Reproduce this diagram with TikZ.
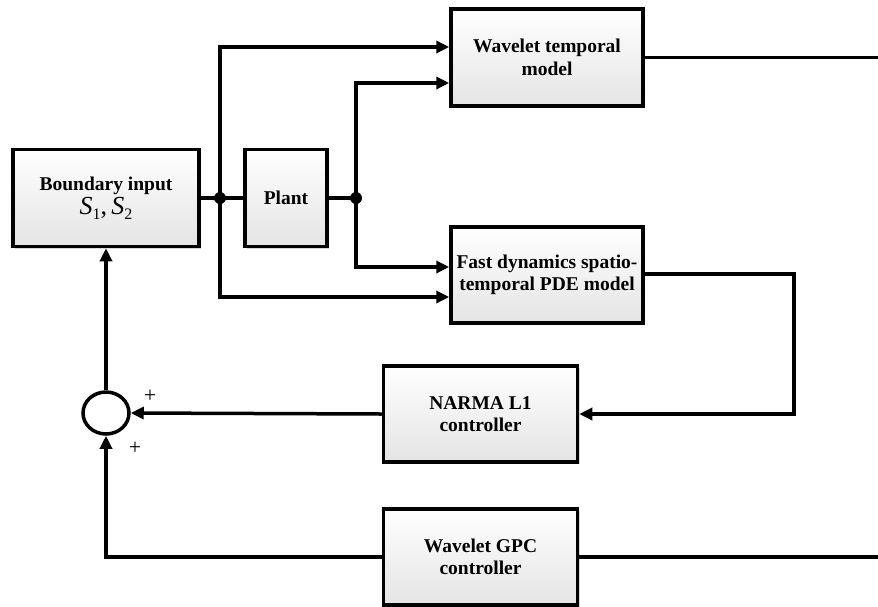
\documentclass[tikz,border=0pt]{standalone}
\usepackage{fontspec}
\setmainfont{Liberation Serif}
\usetikzlibrary{arrows.meta,shapes.geometric,shadows}
\definecolor{boxbot}{HTML}{E4E4E4}
\newcommand{\subnum}[1]{\raisebox{-5pt}{\upshape\fontsize{16}{16}\selectfont #1}}
\begin{document}
\begin{tikzpicture}[x=1pt,y=-1pt,
  blk/.style={draw=black, line width=3.5pt, top color=white, bottom color=boxbot,
    inner sep=0pt, align=center, font=\bfseries\fontsize{19.5}{22.5}\selectfont,
    drop shadow={opacity=0.3, shadow xshift=2pt, shadow yshift=-2pt}},
  wire/.style={line width=3.5pt},
  arr/.style={line width=3.5pt, -{Triangle[length=13pt,width=12pt]}},
  dot/.style={circle, fill=black, inner sep=0pt, minimum size=12pt},
  sgn/.style={font=\fontsize{22}{22}\selectfont, inner sep=0pt}
]
\useasboundingbox (0,0) rectangle (878,606);

\node[blk, minimum width=186pt, minimum height=97pt] (bnd) at (106,198)
  {Boundary input\\[2pt]{\mdseries\itshape\fontsize{26}{26}\selectfont S\subnum{1}{\upshape ,}\,S\subnum{2}}};
\node[blk, minimum width=82pt, minimum height=97pt] (plant) at (286,198) {Plant};
\node[blk, minimum width=192pt, minimum height=97pt] (wt) at (547,57.5) {Wavelet temporal\\model};
\node[blk, minimum width=192pt, minimum height=96pt] (fast) at (547,275) {Fast dynamics spatio-\\temporal PDE model};
\node[blk, minimum width=194pt, minimum height=96pt] (narma) at (480.5,414) {NARMA L1\\controller};
\node[blk, minimum width=194pt, minimum height=96pt] (gpc) at (480.5,557) {Wavelet GPC\\controller};

\node[draw, ellipse, line width=3.5pt, minimum width=46pt, minimum height=42pt, inner sep=0pt, fill=white] (sum) at (106,413) {};

\node[dot] (j1) at (220,198) {};
\node[dot] (j2) at (356,198) {};
\coordinate (r1) at (878,57.5);
\coordinate (r2) at (878,557);
\coordinate (c1) at (794,274);

\draw[wire] (bnd.east) -- (j1.center) -- (plant.west);
\draw[wire] (plant.east) -- (j2.center);
\draw[arr] (j1.center) |- ([yshift=10.5pt]wt.west);
\draw[arr] (j2.center) |- ([yshift=-25.5pt]wt.west);
\draw[arr] (j2.center) |- ([yshift=8pt]fast.west);
\draw[arr] (j1.center) |- ([yshift=-22pt]fast.west);

\draw[wire] (wt.east) -- (r1);
\draw[arr] (fast.east |- c1) -- (c1) |- (narma.east);
\draw[arr] (narma.west) -- (sum.east);
\draw[arr] (sum.north) -- (bnd.south);
\draw[wire] (r2) -- (gpc.east);
\draw[arr] (gpc.west) -| (sum.south);

\node[sgn] (p1) at (150,396) {+};
\node[sgn] (p2) at (135,448) {+};
\end{tikzpicture}
\end{document}
